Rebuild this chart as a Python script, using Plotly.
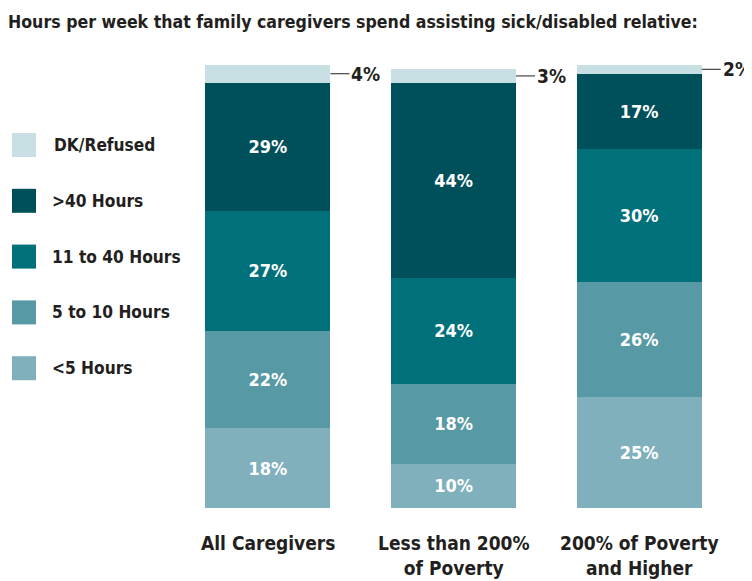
import plotly.graph_objs as go

# data
groups = ['All Caregivers', 'Less than 200%<br>of Poverty', '200% of Poverty<br>and Higher']
series = ['<5 Hours', '5 to 10 Hours', '11 to 40 Hours', '>40 Hours', 'DK/Refused']
lt5 = [18, 10, 25]
h5_10 = [22, 18, 26]
h11_40 = [27, 24, 30]
gt40 = [29, 44, 17]
dk = [4, 3, 2]
colors = ['#7fb0bb', '#5799a4', '#00717a', '#00505b', '#c8dfe3']

FONT = 'DejaVu Sans Condensed, Liberation Sans, sans-serif'
DARK = '#231f20'
OFF = 8  # page body margin
W, H = 752 - OFF, 581 - OFF
L, R, T, B = 167, 20, 52, 73
BARW = 0.674

values = [lt5, h5_10, h11_40, gt40, dk]
x = list(range(len(groups)))

data = []
for name, vals, col in zip(series, values, colors):
    inside = name != 'DK/Refused'
    data.append(go.Bar(
        x=x, y=vals, name=name, width=BARW,
        marker=dict(color=col, line=dict(width=0)),
        text=[f'<b>{v}%</b>' for v in vals] if inside else None,
        textposition='inside', insidetextanchor='middle',
        textfont=dict(family=FONT, size=18, color='white'),
        showlegend=False, hoverinfo='skip'
    ))

annotations = []
shapes = []

# outside labels for DK/Refused
for i in x:
    base = lt5[i] + h5_10[i] + h11_40[i] + gt40[i]
    annotations.append(dict(
        x=i + BARW / 2, y=base + dk[i] / 2, xref='x', yref='y',
        text=f'<b>{dk[i]}%</b>', showarrow=True, arrowhead=0, arrowwidth=1,
        arrowcolor=DARK, ax=19, ay=0, xanchor='left', yanchor='middle',
        font=dict(family=FONT, size=19, color=DARK)
    ))

# category labels
for i, g in enumerate(groups):
    annotations.append(dict(
        x=i, y=-22 / (H - T - B), xref='x', yref='paper', yanchor='top',
        text=f'<b>{g}</b>', showarrow=False,
        font=dict(family=FONT, size=19, color=DARK)
    ))

# legend drawn by hand (top to bottom), positions in page pixels
pw, ph = W - L - R, H - T - B
px = lambda p: (p - OFF - L) / pw
py = lambda p: 1 - (p - OFF - T) / ph
for k, (name, col) in enumerate(zip(series[::-1], colors[::-1])):
    cy = 145 + k * 55.8
    shapes.append(dict(type='rect', xref='paper', yref='paper',
                       x0=px(12), x1=px(36), y0=py(cy - 12), y1=py(cy + 12),
                       fillcolor=col, line=dict(width=0)))
    annotations.append(dict(x=px(50 if k else 52), y=py(cy), xref='paper', yref='paper',
                            xanchor='left', yanchor='middle', text=f'<b>{name}</b>',
                            showarrow=False, font=dict(family=FONT, size=17.2, color=DARK)))

layout = go.Layout(
    width=W, height=H, barmode='stack',
    margin=dict(l=L, r=R, t=T, b=B),
    plot_bgcolor='white', paper_bgcolor='white',
    title=dict(text='<b>Hours per week that family caregivers spend assisting sick/disabled relative:</b>',
               x=0, xanchor='left', y=1 - 14 / H, yanchor='middle',
               font=dict(family=FONT, size=17.6, color=DARK)),
    xaxis=dict(range=[-0.5, 2.5], visible=False),
    yaxis=dict(range=[0, 101.1], visible=False),
    uniformtext=dict(mode=False),
    annotations=annotations, shapes=shapes
)

fig = go.Figure(data=data, layout=layout)
fig.write_html('out.html')
